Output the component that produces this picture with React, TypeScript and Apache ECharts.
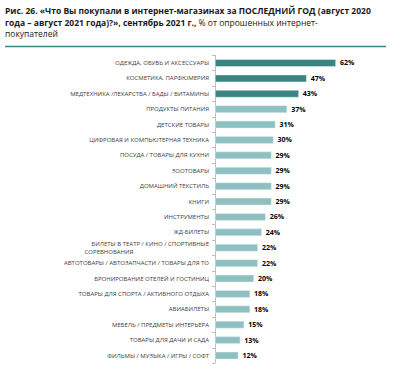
import React, { useEffect, useRef } from "react";
import * as echarts from "echarts";

const categories = [
  "ОДЕЖДА, ОБУВЬ И АКСЕССУАРЫ",
  "КОСМЕТИКА, ПАРФЮМЕРИЯ",
  "МЕДТЕХНИКА /ЛЕКАРСТВА / БАДЫ / ВИТАМИНЫ",
  "ПРОДУКТЫ ПИТАНИЯ",
  "ДЕТСКИЕ ТОВАРЫ",
  "ЦИФРОВАЯ И КОМПЬЮТЕРНАЯ ТЕХНИКА",
  "ПОСУДА / ТОВАРЫ ДЛЯ КУХНИ",
  "ЗООТОВАРЫ",
  "ДОМАШНИЙ ТЕКСТИЛЬ",
  "КНИГИ",
  "ИНСТРУМЕНТЫ",
  "ЖД-БИЛЕТЫ",
  "БИЛЕТЫ В ТЕАТР / КИНО / СПОРТИВНЫЕ\nСОРЕВНОВАНИЯ",
  "АВТОТОВАРЫ / АВТОЗАПЧАСТИ / ТОВАРЫ ДЛЯ ТО",
  "БРОНИРОВАНИЕ ОТЕЛЕЙ И ГОСТИНИЦ",
  "ТОВАРЫ ДЛЯ СПОРТА / АКТИВНОГО ОТДЫХА",
  "АВИАБИЛЕТЫ",
  "МЕБЕЛЬ / ПРЕДМЕТЫ ИНТЕРЬЕРА",
  "ТОВАРЫ ДЛЯ ДАЧИ И САДА",
  "ФИЛЬМЫ / МУЗЫКА / ИГРЫ / СОФТ",
];

const values = [62, 47, 43, 37, 31, 30, 29, 29, 29, 29, 26, 24, 22, 22, 20, 18, 18, 15, 13, 12];

// number of top items highlighted in dark colour
const highlightedCount = 3;

const DARK = "#3a8482";
const LIGHT = "#8fc0c1";

export default function App() {
  const ref = useRef<HTMLDivElement>(null);

  useEffect(() => {
    if (!ref.current) return;
    const chart = echarts.init(ref.current, undefined, { renderer: "svg" });
    const font = "'Open Sans', 'Noto Sans', sans-serif";
    chart.setOption({
      animation: false,
      backgroundColor: "#ffffff",
      textStyle: { fontFamily: font },
      grid: { left: 215, right: 27, top: 55.3, bottom: 1.8, containLabel: false },
      xAxis: {
        type: "value",
        min: 0,
        max: 80,
        show: false,
      },
      yAxis: {
        type: "category",
        inverse: true,
        data: categories,
        axisLine: { show: true, lineStyle: { color: "#bfbfbf", width: 1 } },
        axisTick: { show: true, length: 3, lineStyle: { color: "#bfbfbf" } },
        axisLabel: {
          margin: 6,
          fontSize: 6,
          color: "#404040",
          fontFamily: font,
          interval: 0,
          lineHeight: 8,
          formatter: (v: string) => {
            if (v.indexOf("\n") >= 0) {
              const parts = v.split("\n");
              return parts[0] + "\n{c|" + parts[1] + "}";
            }
            return v;
          },
          rich: {
            c: { width: 200, align: "center", fontSize: 6, color: "#404040", fontFamily: font, lineHeight: 8 },
          },
        },
      },
      series: [
        {
          type: "bar",
          data: values.map((v, i) => ({
            value: v,
            itemStyle: { color: i < highlightedCount ? DARK : LIGHT },
          })),
          barWidth: 7.5,
          itemStyle: { borderColor: "#e6f0f0", borderWidth: 0.5 },
          label: {
            show: true,
            position: "right",
            distance: 4,
            formatter: "{c}%",
            fontSize: 7,
            fontWeight: "bold",
            color: "#000000",
            fontFamily: font,
          },
        },
      ],
      graphic: [
        {
          type: "text",
          left: 5,
          top: 6,
          style: {
            text:
              "{b|Рис. 26. «Что Вы покупали в интернет-магазинах за ПОСЛЕДНИЙ ГОД (август 2020}\n" +
              "{b|года – август 2021 года)?», сентябрь 2021 г., }{r|% от опрошенных интернет-}\n" +
              "{r|покупателей}",
            rich: {
              b: { fontSize: 8.5, fontWeight: "bold", fill: "#1a1a1a", fontFamily: font, lineHeight: 11.5 },
              r: { fontSize: 8.5, fill: "#1a1a1a", fontFamily: font, lineHeight: 11.5 },
            },
          },
        },
        {
          type: "line",
          shape: { x1: 5, y1: 46.5, x2: 386, y2: 46.5 },
          style: { stroke: "#2e8a88", lineWidth: 1.5 },
        },
      ],
    });
    return () => chart.dispose();
  }, []);

  return (
    <div
      ref={ref}
      style={{ position: "fixed", left: 0, top: 0, width: 398, height: 365 }}
    />
  );
}
